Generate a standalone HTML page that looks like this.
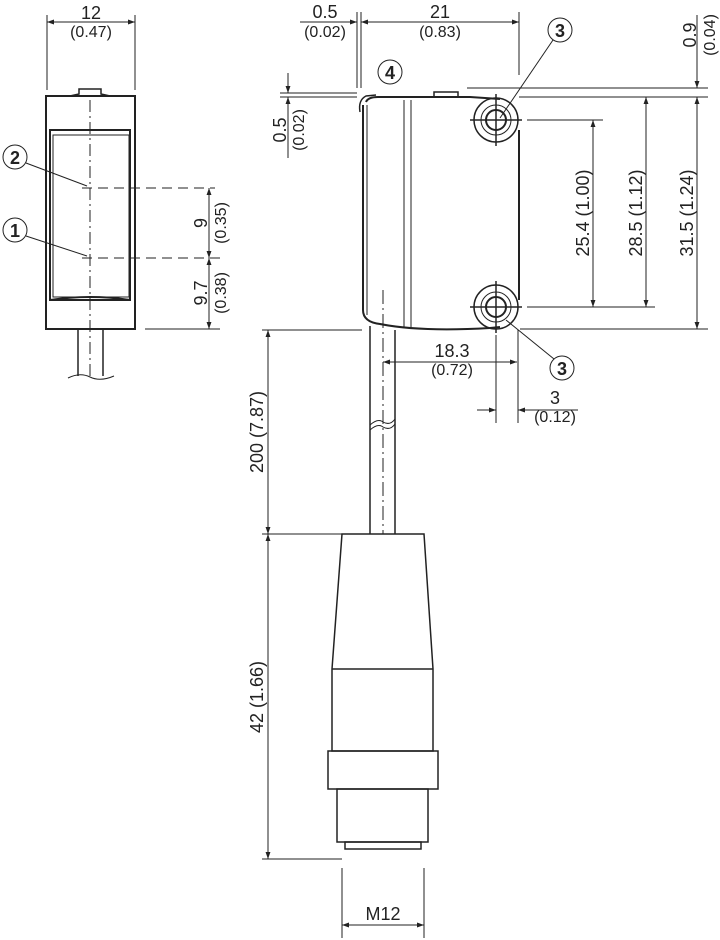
<!DOCTYPE html>
<html><head><style>body{margin:0;background:#fff}svg{display:block}text{font-family:"Liberation Sans",sans-serif;fill:#222}</style></head><body>
<svg width="720" height="940" viewBox="0 0 720 940" xmlns="http://www.w3.org/2000/svg">
<defs><marker id="a" viewBox="0 0 10 10" refX="10" refY="5" markerWidth="10" markerHeight="7" orient="auto-start-reverse" markerUnits="userSpaceOnUse"><path d="M0,1.5L10,5L0,8.5z" fill="#222"/></marker></defs>
<g stroke="#222" fill="none" stroke-width="1">
<!-- LEFT VIEW -->
<line x1="47" y1="15" x2="47" y2="90"/><line x1="135" y1="15" x2="135" y2="90"/>
<line x1="47" y1="22" x2="135" y2="22" marker-start="url(#a)" marker-end="url(#a)"/>
<rect x="46" y="96" width="89" height="233" stroke-width="2"/>
<path d="M70,96 L79,94 L79,89 L101,89 L101,94 L110,96" stroke-width="1.5"/>
<rect x="50" y="130" width="80" height="170" stroke-width="2"/>
<rect x="53" y="135" width="76" height="162"/>
<path d="M50,300 Q90,294 130,300" stroke-width="2"/>
<line x1="90" y1="100" x2="90" y2="378" stroke-dasharray="12,4,2,4"/>
<line x1="82" y1="188" x2="215" y2="188" stroke-dasharray="10,6"/>
<line x1="82" y1="258" x2="225" y2="258" stroke-dasharray="10,6"/>
<line x1="145" y1="329" x2="220" y2="329"/>
<line x1="209" y1="188" x2="209" y2="258" marker-start="url(#a)" marker-end="url(#a)"/>
<line x1="209" y1="258" x2="209" y2="329" marker-start="url(#a)" marker-end="url(#a)"/>
<circle cx="15" cy="157" r="12"/><line x1="26" y1="163" x2="87" y2="186"/>
<circle cx="15" cy="230" r="12"/><line x1="26" y1="236" x2="87" y2="256"/>
<line x1="78" y1="329" x2="78" y2="376" stroke-width="1.5"/><line x1="103" y1="329" x2="103" y2="376" stroke-width="1.5"/>
<path d="M68,378 Q80,372 90,377 Q100,382 114,376"/>
<!-- RIGHT VIEW -->
<line x1="357" y1="12" x2="357" y2="88"/><line x1="361" y1="12" x2="361" y2="88"/><line x1="519" y1="12" x2="519" y2="75"/>
<line x1="361" y1="22" x2="519" y2="22" marker-start="url(#a)" marker-end="url(#a)"/>
<line x1="300" y1="22" x2="357" y2="22" marker-end="url(#a)"/>
<path d="M363,105 L363,310 Q363,322 380,324 Q420,332 490,328 L500,327" stroke-width="2"/>
<path d="M366,102 Q368,97 378,97 L470,97 L500,99" stroke-width="2"/>
<path d="M360,112 Q358,100 366,96 L376,95" stroke-width="1.5"/>
<line x1="367" y1="105" x2="367" y2="315"/>
<line x1="519" y1="130" x2="519" y2="300" stroke-width="2"/>
<path d="M434,97 L434,92 L458,92 L458,97" stroke-width="1.5"/>
<line x1="404" y1="100" x2="404" y2="328"/><line x1="411" y1="100" x2="411" y2="328"/>
<circle cx="496" cy="120" r="22" stroke-width="1.5"/><circle cx="496" cy="120" r="15"/><circle cx="496" cy="120" r="10" stroke-width="2"/>
<line x1="470" y1="120" x2="522" y2="120" stroke-width="1.5"/><line x1="496" y1="94" x2="496" y2="146" stroke-width="1.5"/>
<circle cx="496" cy="307" r="22" stroke-width="1.5"/><circle cx="496" cy="307" r="15"/><circle cx="496" cy="307" r="10" stroke-width="2"/>
<line x1="470" y1="307" x2="522" y2="307" stroke-width="1.5"/><line x1="496" y1="281" x2="496" y2="333" stroke-width="1.5"/>
<line x1="467" y1="88" x2="708" y2="88"/><line x1="519" y1="97" x2="708" y2="97"/>
<line x1="527" y1="120" x2="603" y2="120"/><line x1="527" y1="307" x2="655" y2="307"/>
<line x1="520" y1="329" x2="708" y2="329"/>
<line x1="593" y1="120" x2="593" y2="307" marker-start="url(#a)" marker-end="url(#a)"/>
<line x1="646" y1="97" x2="646" y2="307" marker-start="url(#a)" marker-end="url(#a)"/>
<line x1="697" y1="97" x2="697" y2="329" marker-start="url(#a)" marker-end="url(#a)"/>
<line x1="697" y1="15" x2="697" y2="88" marker-end="url(#a)"/>
<line x1="280" y1="93" x2="357" y2="93"/><line x1="280" y1="97" x2="357" y2="97"/>
<line x1="288" y1="73" x2="288" y2="93" marker-end="url(#a)"/><line x1="288" y1="158" x2="288" y2="97" marker-end="url(#a)"/>
<circle cx="560" cy="30" r="12"/><line x1="553" y1="40" x2="500" y2="118"/>
<circle cx="562" cy="368" r="12"/><line x1="554" y1="359" x2="506" y2="320"/>
<circle cx="390" cy="72" r="12"/>
<line x1="383" y1="362" x2="517" y2="362" marker-start="url(#a)" marker-end="url(#a)"/>
<line x1="496" y1="335" x2="496" y2="423"/><line x1="518" y1="330" x2="518" y2="423"/>
<line x1="477" y1="410" x2="496" y2="410" marker-end="url(#a)"/><line x1="578" y1="410" x2="518" y2="410" marker-end="url(#a)"/>
<!-- cable -->
<line x1="370" y1="326" x2="370" y2="534" stroke-width="1.5"/><line x1="395" y1="330" x2="395" y2="534" stroke-width="1.5"/>
<line x1="383" y1="290" x2="383" y2="534" stroke-dasharray="14,4,2,4"/>
<path d="M370,425 Q378,418 383,422 Q390,426 395,419"/>
<path d="M370,430 Q378,423 383,427 Q390,431 395,424"/>
<line x1="262" y1="330" x2="362" y2="330"/>
<line x1="268" y1="330" x2="268" y2="534" marker-start="url(#a)" marker-end="url(#a)"/>
<!-- connector -->
<line x1="262" y1="534" x2="342" y2="534"/>
<path d="M342,534 L424,534 L433,669 L433,751 L332,751 L332,669 Z" stroke-width="1.5"/>
<line x1="332" y1="669" x2="433" y2="669" stroke-width="1.5"/>
<rect x="328" y="751" width="110" height="38" stroke-width="1.5"/>
<rect x="337" y="789" width="91" height="53" stroke-width="1.5"/>
<rect x="345" y="842" width="76" height="7" stroke-width="1.5"/>
<line x1="262" y1="859" x2="342" y2="859"/>
<line x1="268" y1="534" x2="268" y2="859" marker-start="url(#a)" marker-end="url(#a)"/>
<line x1="342" y1="868" x2="342" y2="938"/><line x1="424" y1="868" x2="424" y2="938"/>
<line x1="342" y1="925" x2="424" y2="925" marker-start="url(#a)" marker-end="url(#a)"/>
</g>
<g font-size="18" text-anchor="middle">
<text x="91" y="19">12</text><text x="91" y="37" font-size="16">(0.47)</text>
<text x="325" y="18">0.5</text><text x="325" y="37" font-size="16">(0.02)</text>
<text x="440" y="18">21</text><text x="440" y="37" font-size="16">(0.83)</text>
<text x="452" y="357">18.3</text><text x="452" y="375" font-size="16">(0.72)</text>
<text x="555" y="404">3</text><text x="555" y="422" font-size="16">(0.12)</text>
<text x="383" y="920">M12</text>
<text x="15" y="164" font-weight="bold">2</text>
<text x="15" y="237" font-weight="bold">1</text>
<text x="560" y="37" font-weight="bold">3</text>
<text x="562" y="375" font-weight="bold">3</text>
<text x="390" y="79" font-weight="bold">4</text>
<text transform="translate(207,223) rotate(-90)">9</text><text transform="translate(226,223) rotate(-90)" font-size="16">(0.35)</text>
<text transform="translate(207,293) rotate(-90)">9.7</text><text transform="translate(226,293) rotate(-90)" font-size="16">(0.38)</text>
<text transform="translate(286,130) rotate(-90)">0.5</text><text transform="translate(304,130) rotate(-90)" font-size="16">(0.02)</text>
<text transform="translate(715,35) rotate(-90)" font-size="16">(0.04)</text><text transform="translate(696,35) rotate(-90)">0.9</text>
<text transform="translate(589,213) rotate(-90)">25.4 (1.00)</text>
<text transform="translate(642,213) rotate(-90)">28.5 (1.12)</text>
<text transform="translate(693,213) rotate(-90)">31.5 (1.24)</text>
<text transform="translate(263,432) rotate(-90)">200 (7.87)</text>
<text transform="translate(263,697) rotate(-90)">42 (1.66)</text>
</g>
</svg>
</body></html>
